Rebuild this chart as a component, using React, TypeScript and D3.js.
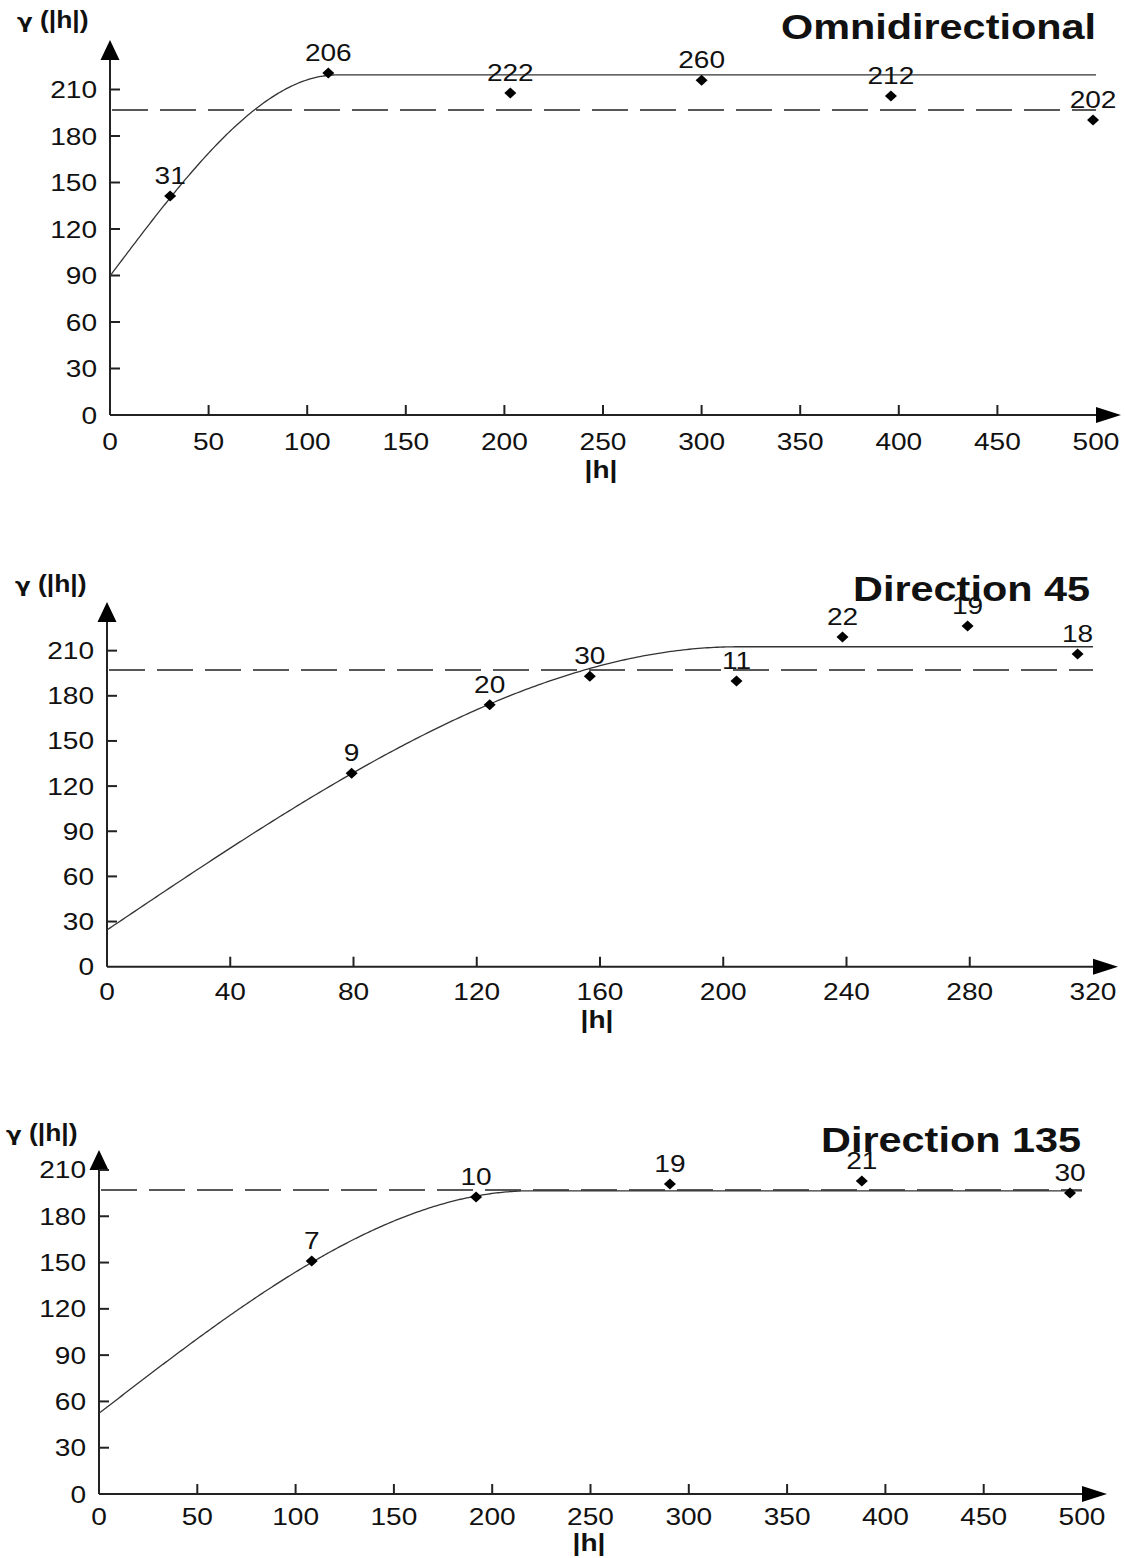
import React from "react";
import * as d3 from "d3";

// ---------- DATA ----------
const panelTitles = ["Omnidirectional", "Direction 45", "Direction 135"];

// Panel 1 : Omnidirectional
const omniLag = [30.5, 110.7, 203, 300, 396, 498.5];
const omniGamma = [141.3, 220.6, 207.7, 216, 205.8, 190.3];
const omniPairs = ["31", "206", "222", "260", "212", "202"];
const omniXTicks = [0, 50, 100, 150, 200, 250, 300, 350, 400, 450, 500];

// Panel 2 : Direction 45
const d45Lag = [79.4, 124.2, 156.7, 204.3, 238.7, 279.3, 315];
const d45Gamma = [128.5, 174, 193, 189.9, 219.1, 226.4, 207.8];
const d45Pairs = ["9", "20", "30", "11", "22", "19", "18"];
const d45XTicks = [0, 40, 80, 120, 160, 200, 240, 280, 320];

// Panel 3 : Direction 135
const d135Lag = [108.2, 191.8, 290.4, 388, 493.9];
const d135Gamma = [151, 192.5, 200.9, 202.9, 195.1];
const d135Pairs = ["7", "10", "19", "21", "30"];
const d135XTicks = [0, 50, 100, 150, 200, 250, 300, 350, 400, 450, 500];

const yTicks = [0, 30, 60, 90, 120, 150, 180, 210];

// spherical model parameters [nugget, sill, range]
const omniModel = [89.7, 219.4, 115];
const d45Model = [24.4, 212.6, 205];
const d135Model = [52.3, 196.5, 220];

// sample variance (dashed line)
const sampleVariance = [196.8, 197.1, 197];

// ---------- LAYOUT ----------
const W = 1125;
const H = 1558;
const FONT = "'Liberation Sans', Arial, sans-serif";
const SX = 1.17;

type PanelProps = {
  title: string;
  lag: number[];
  gamma: number[];
  pairs: string[];
  xTicks: number[];
  model: number[];
  variance: number;
  x0: number;
  x1: number;
  y0: number;
  yPerUnit: number;
  yArrowBase: number;
  xLabelOffset: number;
  titleRight: number;
  titleBase: number;
  gammaLabel: [number, number];
  hLabel: [number, number];
};

function spherical(h: number, m: number[]) {
  const [c0, sill, a] = m;
  if (h >= a) return sill;
  const r = h / a;
  return c0 + (sill - c0) * (1.5 * r - 0.5 * r * r * r);
}

function T({ x, y, anchor = "middle", size = 24, bold = false, sx = SX, children }: any) {
  return (
    <text
      transform={`translate(${x},${y}) scale(${sx},1)`}
      textAnchor={anchor}
      fontFamily={FONT}
      fontSize={size}
      fontWeight={bold ? "bold" : "normal"}
      fill="#111"
    >
      {children}
    </text>
  );
}

function Panel(p: PanelProps) {
  const xMax = p.xTicks[p.xTicks.length - 1];
  const x = d3.scaleLinear().domain([0, xMax]).range([p.x0, p.x1]);
  const y = d3.scaleLinear().domain([0, 30]).range([p.y0, p.y0 - 30 * p.yPerUnit]);
  const hs = d3.range(0, xMax + 0.5, 1);
  const line = d3
    .line<number>()
    .x((h) => x(h))
    .y((h) => y(spherical(h, p.model)));
  const axisX = x(0);
  const axisY = y(0);
  return (
    <g>
      {/* axes */}
      <line x1={axisX} x2={p.x1} y1={axisY} y2={axisY} stroke="#222" strokeWidth={2} />
      <line x1={axisX} x2={axisX} y1={axisY} y2={p.yArrowBase} stroke="#222" strokeWidth={2} />
      <path
        d={`M${p.x1},${axisY - 8}L${p.x1 + 25},${axisY}L${p.x1},${axisY + 8}Z`}
        fill="#000"
      />
      <path
        d={`M${axisX - 9.5},${p.yArrowBase}L${axisX},${p.yArrowBase - 20}L${axisX + 9.5},${p.yArrowBase}Z`}
        fill="#000"
      />
      {p.xTicks.map((t) => (
        <g key={"xt" + t}>
          {t > 0 && t < xMax && (
            <line x1={x(t)} x2={x(t)} y1={axisY} y2={axisY - 10} stroke="#222" strokeWidth={2} />
          )}
          <T x={x(t)} y={axisY + p.xLabelOffset}>
            {t}
          </T>
        </g>
      ))}
      {yTicks.map((t) => (
        <g key={"yt" + t}>
          {t > 0 && (
            <line x1={axisX} x2={axisX + 10} y1={y(t)} y2={y(t)} stroke="#222" strokeWidth={2} />
          )}
          <T x={axisX - 13} y={y(t) + 8.5} anchor="end">
            {t}
          </T>
        </g>
      ))}
      {/* sample variance */}
      <line
        x1={axisX}
        x2={p.x1}
        y1={y(p.variance)}
        y2={y(p.variance)}
        stroke="#222"
        strokeWidth={1.6}
        strokeDasharray="36 12"
        strokeDashoffset={-2}
      />
      {/* model */}
      <path d={line(hs) || ""} fill="none" stroke="#333" strokeWidth={1.3} />
      {/* points */}
      {p.lag.map((h, i) => {
        const cx = x(h);
        const cy = y(p.gamma[i]);
        return (
          <g key={"pt" + i}>
            <path d={`M${cx - 6},${cy}L${cx},${cy - 5.5}L${cx + 6},${cy}L${cx},${cy + 5.5}Z`} fill="#000" />
            <T x={cx} y={cy - 12}>
              {p.pairs[i]}
            </T>
          </g>
        );
      })}
      {/* labels */}
      <T x={p.titleRight} y={p.titleBase} anchor="end" size={36} bold sx={1.15}>
        {p.title}
      </T>
      <T x={p.gammaLabel[0]} y={p.gammaLabel[1]} anchor="start" size={23} bold sx={1.15}>
        <tspan fontFamily="'DejaVu Sans', sans-serif" fontSize={20}>γ</tspan>
        <tspan> (|h|)</tspan>
      </T>
      <T x={p.hLabel[0]} y={p.hLabel[1]} size={24} bold sx={1.17}>
        |h|
      </T>
    </g>
  );
}

export default function App() {
  return (
    <svg
      width={W}
      height={H}
      viewBox={`0 0 ${W} ${H}`}
      style={{ position: "absolute", left: 0, top: 0, background: "#fff" }}
    >
      <rect width={W} height={H} fill="#fff" />
      <Panel
        title={panelTitles[0]}
        lag={omniLag}
        gamma={omniGamma}
        pairs={omniPairs}
        xTicks={omniXTicks}
        model={omniModel}
        variance={sampleVariance[0]}
        x0={110}
        x1={1096}
        y0={415}
        yPerUnit={1.55}
        yArrowBase={60}
        xLabelOffset={35}
        titleRight={1096}
        titleBase={39}
        gammaLabel={[17, 28]}
        hLabel={[601, 478]}
      />
      <Panel
        title={panelTitles[1]}
        lag={d45Lag}
        gamma={d45Gamma}
        pairs={d45Pairs}
        xTicks={d45XTicks}
        model={d45Model}
        variance={sampleVariance[1]}
        x0={107}
        x1={1093}
        y0={966.7}
        yPerUnit={1.505}
        yArrowBase={622}
        xLabelOffset={33}
        titleRight={1090}
        titleBase={601}
        gammaLabel={[15, 592]}
        hLabel={[597, 1028]}
      />
      <Panel
        title={panelTitles[2]}
        lag={d135Lag}
        gamma={d135Gamma}
        pairs={d135Pairs}
        xTicks={d135XTicks}
        model={d135Model}
        variance={sampleVariance[2]}
        x0={99}
        x1={1082}
        y0={1494}
        yPerUnit={1.543}
        yArrowBase={1170}
        xLabelOffset={31}
        titleRight={1081}
        titleBase={1152}
        gammaLabel={[6, 1141]}
        hLabel={[589, 1551]}
      />
    </svg>
  );
}
